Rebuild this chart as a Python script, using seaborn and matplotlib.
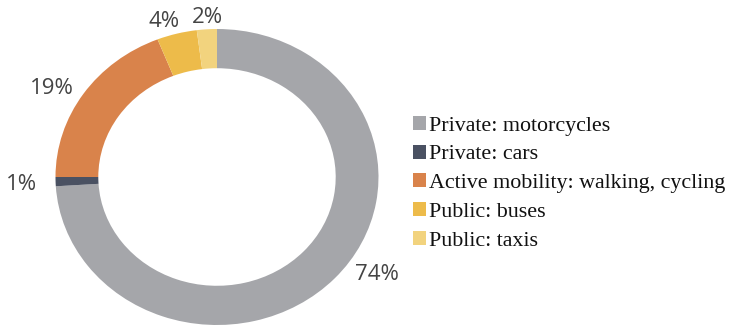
import matplotlib
matplotlib.use("Agg")
import matplotlib.pyplot as plt
import seaborn as sns

# Modal share of trips
categories = [
    "Private: motorcycles",
    "Private: cars",
    "Active mobility: walking, cycling",
    "Public: buses",
    "Public: taxis",
]
shares = [74, 1, 19, 4, 2]
colors = ["#A5A6AA", "#4A5162", "#D9834B", "#EDBB4A", "#F2D37E"]

# Percentage label anchors (pie data coordinates)
label_xy = [(0.99, -0.66), (-1.21, -0.05), (-1.02, 0.60), (-0.33, 1.05), (-0.06, 1.08)]

sns.set_theme(style="white")
palette = sns.color_palette(colors)

fig = plt.figure(figsize=(7.32, 3.27), dpi=100)
W, H = 732, 327
# donut spans x 55.5..378.5 px, y 29..325 px (from top)
ax = fig.add_axes([55.5 / W, (H - 325) / H, 323 / W, 296 / H])

wedges, _ = ax.pie(
    shares,
    colors=palette,
    startangle=90,
    counterclock=False,
    radius=1.0,
    wedgeprops=dict(width=0.265, linewidth=0, edgecolor="none"),
)
ax.set_aspect("auto")
ax.set_xlim(-1, 1)
ax.set_ylim(-1, 1)
ax.axis("off")

for v, (x, y) in zip(shares, label_xy):
    ax.text(x, y, f"{v}%", ha="center", va="center", fontsize=16,
            family="Open Sans", color="#444444", clip_on=False)

leg = fig.legend(
    wedges, categories,
    loc="upper left",
    bbox_to_anchor=(413 / W, 1 - 116 / H),
    frameon=False,
    prop=dict(family="Liberation Serif", size=15.8),
    handlelength=0.6, handleheight=0.6, handletextpad=0.15,
    labelspacing=0.41, borderpad=0, borderaxespad=0,
)
for t in leg.get_texts():
    t.set_color("#111111")

fig.savefig("out.png", dpi=100)
